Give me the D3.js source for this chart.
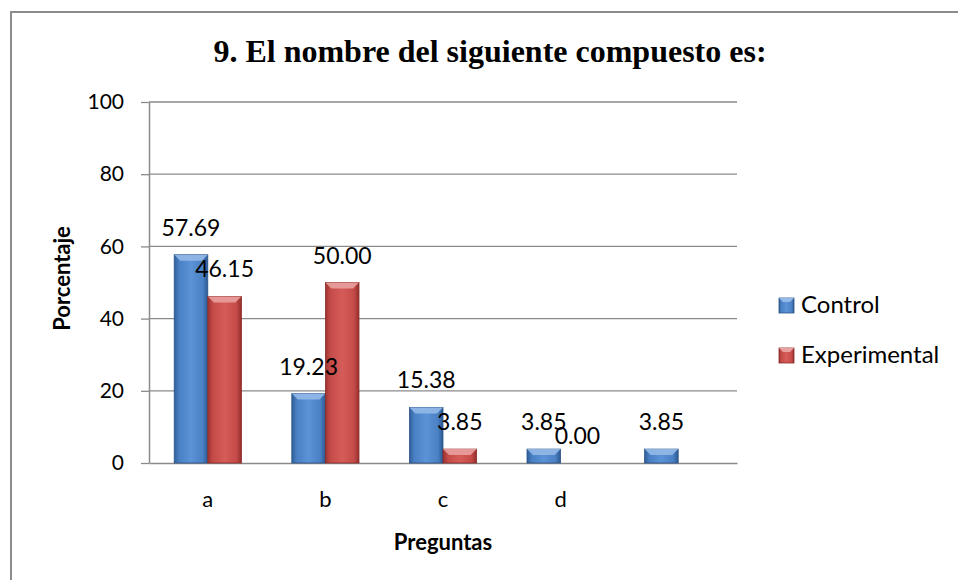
<!DOCTYPE html>
<html>
<head>
<meta charset="utf-8">
<script src="https://cdn.jsdelivr.net/npm/d3@7/dist/d3.min.js"></script>
<style>
  html, body { margin: 0; padding: 0; background: #fff; }
  svg { display: block; }
</style>
</head>
<body>
<svg id="chart" width="958" height="580"></svg>
<script>
// Survey results, question 9 (percent of answers per option)
const categories = ["a", "b", "c", "d", ""];
const seriesNames = ["Control", "Experimental"];
const controlValues = [57.69, 19.23, 15.38, 3.85, 3.85];
const experimentalValues = [46.15, 50.00, 3.85, 0.00, null];
const yTicks = [0, 20, 40, 60, 80, 100];

const titleText = "9. El nombre del siguiente compuesto es:";
const yTitle = "Porcentaje";
const xTitle = "Preguntas";

const svg = d3.select("#chart");
const W = 958, H = 580;
const margin = { left: 149, right: W - 737, top: 102, bottom: H - 463 };

const sans = "Lato, 'Open Sans', sans-serif";
const gridColor = "#8a8a8a";

// Outer chart frame
svg.append("rect")
  .attr("x", 11).attr("y", 12)
  .attr("width", W + 10).attr("height", H + 10)
  .attr("fill", "#fff")
  .attr("stroke", "#8c8c8c").attr("stroke-width", 2);

// Gradients for the bevelled bars
const defs = svg.append("defs");
const palettes = {
  Control: { stops: ["#2f5f99", "#4a80c4", "#5b93d6", "#4a80c4", "#2c5990"], top: "#93b9e8", edge: "#2a5489" },
  Experimental: { stops: ["#9c3431", "#c44b48", "#d65c59", "#c44b48", "#942f2c"], top: "#e9a09e", edge: "#8a2b28" }
};
seriesNames.forEach((s, i) => {
  const g = defs.append("linearGradient")
    .attr("id", "grad" + i).attr("x1", "0").attr("x2", "1").attr("y1", "0").attr("y2", "0");
  const offs = [0, 0.15, 0.5, 0.85, 1];
  palettes[s].stops.forEach((c, k) => g.append("stop").attr("offset", offs[k]).attr("stop-color", c));
});

const x0 = d3.scaleBand()
  .domain(categories.map((c, i) => i))
  .range([margin.left, W - margin.right])
  .paddingInner(0).paddingOuter(0);

const x1 = d3.scaleBand()
  .domain(seriesNames)
  .range([0, x0.bandwidth()])
  .paddingInner(0).paddingOuter(0.75);

const y = d3.scaleLinear()
  .domain([0, 100])
  .range([H - margin.bottom, margin.top]);

// Horizontal gridlines
svg.append("g")
  .selectAll("line")
  .data(yTicks.filter(t => t > 0))
  .join("line")
  .attr("x1", margin.left).attr("x2", W - margin.right)
  .attr("y1", d => y(d)).attr("y2", d => y(d))
  .attr("stroke", gridColor).attr("stroke-width", 1.3);

// Y axis
const yAxis = svg.append("g")
  .attr("transform", `translate(${margin.left},0)`)
  .call(d3.axisLeft(y).tickValues(yTicks).tickSize(8).tickSizeOuter(0).tickPadding(17));
yAxis.select(".domain").attr("stroke", gridColor).attr("stroke-width", 1.5);
yAxis.selectAll(".tick line").attr("stroke", gridColor).attr("stroke-width", 1.3);
yAxis.selectAll(".tick text")
  .attr("font-family", sans).attr("font-size", 21).attr("fill", "#000");

// X axis
const xAxis = svg.append("g")
  .attr("transform", `translate(0,${y(0)})`)
  .call(d3.axisBottom(x0).tickFormat(i => categories[i]).tickSize(0).tickPadding(28));
xAxis.select(".domain").attr("stroke", gridColor).attr("stroke-width", 1.5);
xAxis.selectAll(".tick text")
  .attr("font-family", sans).attr("font-size", 22).attr("fill", "#000");

// Bars
const series = [controlValues, experimentalValues];
const bars = [];
series.forEach((vals, si) => {
  vals.forEach((v, ci) => {
    if (v === null) return;
    bars.push({ s: seriesNames[si], si, ci, v });
  });
});

const barG = svg.append("g");
bars.forEach(b => {
  const bx = x0(b.ci) + x1(b.s);
  const bw = x1.bandwidth();
  const top = y(b.v);
  const h = y(0) - top;
  if (h <= 0) return;
  const g = barG.append("g");
  g.append("rect")
    .attr("x", bx).attr("y", top)
    .attr("width", bw).attr("height", h)
    .attr("fill", `url(#grad${b.si})`)
    .attr("stroke", palettes[b.s].edge).attr("stroke-width", 0.8);
  // top bevel facet
  const bev = Math.min(6, h / 2);
  g.append("path")
    .attr("d", `M${bx},${top} L${bx + bw},${top} L${bx + bw - bev},${top + bev} L${bx + bev},${top + bev} Z`)
    .attr("fill", palettes[b.s].top).attr("opacity", 0.9);
});

// Value labels
svg.append("g")
  .selectAll("text")
  .data(bars)
  .join("text")
  .attr("x", d => x0(d.ci) + x1(d.s) + x1.bandwidth() / 2)
  .attr("y", d => y(d.v) - 19)
  .attr("text-anchor", "middle")
  .attr("font-family", sans).attr("font-size", 23).attr("fill", "#000")
  .text(d => d.v.toFixed(2));

// Title
svg.append("text")
  .attr("x", 490).attr("y", 62)
  .attr("text-anchor", "middle")
  .attr("font-family", "'Liberation Serif', 'Times New Roman', serif")
  .attr("font-weight", "bold").attr("font-size", 32)
  .text(titleText);

// Axis titles
svg.append("text")
  .attr("transform", `translate(70,${(y(0) + y(100)) / 2 - 4}) rotate(-90)`)
  .attr("text-anchor", "middle")
  .attr("font-family", sans).attr("font-weight", "bold").attr("font-size", 22)
  .text(yTitle);

svg.append("text")
  .attr("x", (margin.left + W - margin.right) / 2).attr("y", 550)
  .attr("text-anchor", "middle")
  .attr("font-family", sans).attr("font-weight", "bold").attr("font-size", 22)
  .text(xTitle);

// Legend
const legend = svg.append("g");
seriesNames.forEach((s, i) => {
  const ly = 298 + i * 50;
  legend.append("rect")
    .attr("x", 779).attr("y", ly).attr("width", 15).attr("height", 15)
    .attr("fill", `url(#grad${i})`)
    .attr("stroke", palettes[s].edge).attr("stroke-width", 0.8);
  legend.append("path")
    .attr("d", `M779,${ly} L794,${ly} L790,${ly + 4} L783,${ly + 4} Z`)
    .attr("fill", palettes[s].top);
  legend.append("text")
    .attr("x", 801).attr("y", ly + 15)
    .attr("font-family", sans).attr("font-size", 24)
    .text(s);
});
</script>
</body>
</html>
